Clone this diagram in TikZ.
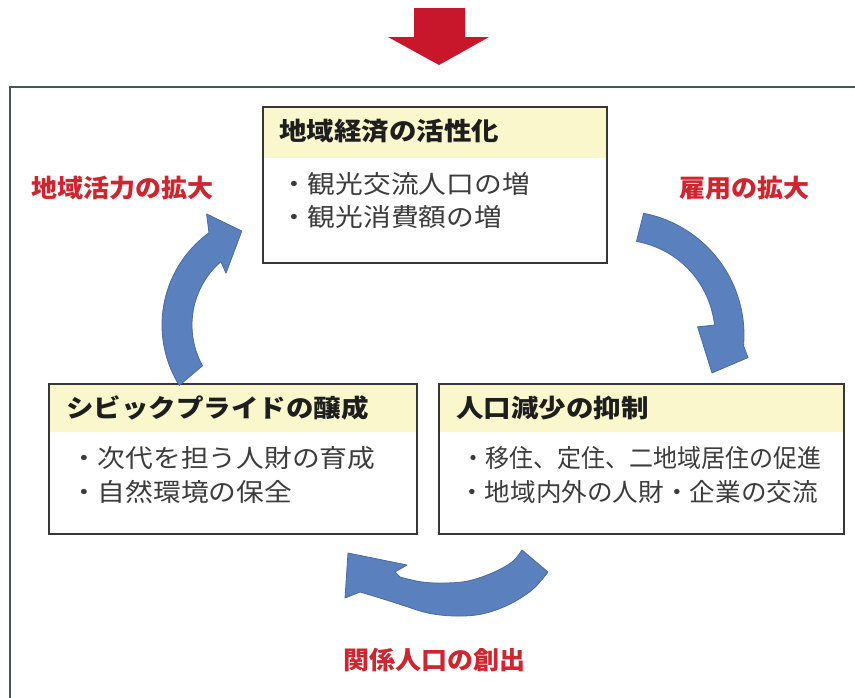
\documentclass[tikz,border=0pt]{standalone}
\usepackage{fontspec}
\newfontfamily\jp{Noto Sans CJK JP}
\definecolor{labred}{RGB}{205,38,48}
\definecolor{redarr}{RGB}{200,22,42}
\definecolor{arrblue}{RGB}{90,128,190}
\definecolor{arrblueline}{RGB}{72,106,165}
\definecolor{hdrc}{RGB}{250,247,205}
\definecolor{boxc}{RGB}{55,55,55}
\definecolor{framec}{RGB}{75,85,85}
\definecolor{ttlc}{RGB}{30,30,30}
\definecolor{bodyc}{RGB}{60,60,60}
\tikzset{
  lbl/.style={font=\jp\bfseries\fontsize{25}{30}\selectfont, text=labred, inner sep=0pt, anchor=center, xscale=1.04},
  ttl/.style={font=\jp\bfseries\fontsize{25}{30}\selectfont, text=ttlc, inner sep=0pt, anchor=west, xscale=1.1},
  bdy/.style={font=\jp\fontsize{25}{30}\selectfont, text=bodyc, inner sep=0pt, anchor=west, xscale=1.11},
  boxline/.style={draw=boxc, line width=1.6pt},
  hdr/.style={fill=hdrc},
  bluearrow/.style={fill=arrblue, draw=arrblueline, line width=0.8pt, line join=round},
  framel/.style={draw=framec, line width=2pt},
}
\begin{document}
\begin{tikzpicture}[x=1pt,y=-1pt]
\useasboundingbox (0,0) rectangle (855,697);
\fill[white] (0,0) rectangle (855,697);
\clip (0,0) rectangle (855,697);
% outer frame
\draw[framel] (10,700) -- (10,87) -- (860,87);
% red arrow
\fill[redarr] (414,8) -- (465,8) -- (465,37) -- (489,37) -- (439,65) -- (388,37) -- (414,37) -- cycle;
% boxes
\fill[hdr] (263,107) rectangle (607,158);
\draw[boxline] (263,107) rectangle (607,263);
\fill[hdr] (49,384) rectangle (417,432);
\draw[boxline] (49,384) rectangle (417,534);
\fill[hdr] (439,384) rectangle (844,432);
\draw[boxline] (439,384) rectangle (844,534);
% texts
\node[ttl] (t1) at (279,131) {地域経済の活性化};
\node[bdy] (t1a) at (280,184) {・観光交流人口の増};
\node[bdy] (t1b) at (280,217) {・観光消費額の増};
\node[ttl] (t2) at (66,408) {シビックプライドの醸成};
\node[bdy] (t2a) at (70,458) {・次代を担う人財の育成};
\node[bdy] (t2b) at (70,492) {・自然環境の保全};
\node[ttl] (t3) at (456,408) {人口減少の抑制};
\node[bdy, xscale=0.96/1.11] (t3a) at (461,458) {・移住、定住、二地域居住の促進};
\node[bdy, xscale=1.025/1.11] (t3b) at (459,492) {・地域内外の人財・企業の交流};
\node[lbl] (l1) at (122.5,188) {地域活力の拡大};
\node[lbl] (l2) at (744.5,188) {雇用の拡大};
\node[lbl] (l3) at (434.5,660) {関係人口の創出};
% left curved arrow
\filldraw[bluearrow] plot[domain=148:234, samples=40, variable=\t] ({276+114*cos(\t)},{325+114*sin(\t)})
  -- ({276+131*cos(238)},{325+131*sin(238)})
  -- ({276+100*cos(250)},{325+100*sin(250)})
  -- ({276+72*cos(226)},{325+72*sin(226)})
  -- plot[domain=229:151, samples=40, variable=\t] ({276+84*cos(\t)},{325+84*sin(\t)}) -- cycle;
% right curved arrow
\filldraw[bluearrow] plot[domain=-79:5, samples=40, variable=\t] ({620+124*cos(\t)},{335+124*sin(\t)})
  -- ({620+130*cos(10)},{335+130*sin(10)})
  -- ({620+99.5*cos(22.4)},{335+99.5*sin(22.4)})
  -- ({620+78*cos(-6)},{335+78*sin(-6)})
  -- plot[domain=-6:-80, samples=40, variable=\t] ({620+95*cos(\t)},{335+95*sin(\t)}) -- cycle;
% bottom curved arrow
\filldraw[bluearrow] (522,550) -- plot[smooth, tension=0.6] coordinates {(522,550) (512,562) (492,573) (468,581) (445,583) (422,582) (400,577)}
  -- (395,572) -- (407,565) -- (348,553) -- (345,598) -- (360,592)
  -- plot[smooth, tension=0.6] coordinates {(360,592) (380,598) (402,605) (428,613) (455,616) (482,614) (508,605) (532,590) (548,572)} -- cycle;
\end{tikzpicture}
\end{document}
